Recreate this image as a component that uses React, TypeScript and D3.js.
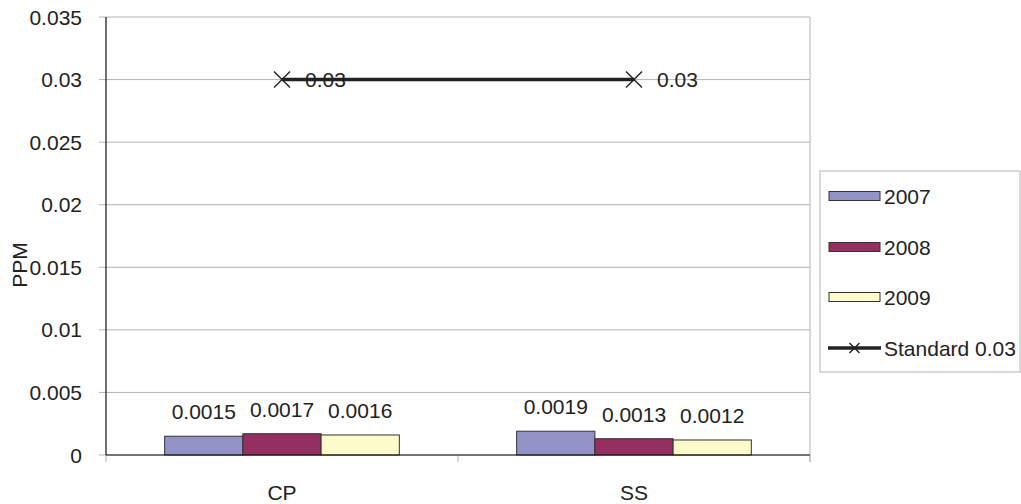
import React from "react";
import * as d3 from "d3";

const categories = ["CP", "SS"];
const seriesNames = ["2007", "2008", "2009"];
const values2007 = [0.0015, 0.0019];
const values2008 = [0.0017, 0.0013];
const values2009 = [0.0016, 0.0012];
const standardValues = [0.03, 0.03];
const standardName = "Standard 0.03";
const yTicks = [0, 0.005, 0.01, 0.015, 0.02, 0.025, 0.03, 0.035];
const seriesColors = ["#9393C8", "#952F61", "#FDFBCB"];

const W = 1021;
const H = 504;
const FONT = "Liberation Sans, Arial, sans-serif";
const TXT = "#222";

export default function App() {
  const left = 106;
  const right = 810;
  const top = 17;
  const bottom = 455;
  const y = d3.scaleLinear().domain([0, 0.035]).range([bottom, top]);
  const x = d3.scaleBand<string>().domain(categories).range([left, right]).padding(0);
  const band = x.bandwidth();
  const groupW = (band * 3) / 4.5;
  const inner = d3
    .scaleBand<string>()
    .domain(seriesNames)
    .range([(band - groupW) / 2, (band + groupW) / 2])
    .padding(0);
  const seriesValues = [values2007, values2008, values2009];
  const fs = 21;

  const linePts = categories.map((c, i) => [x(c)! + band / 2, y(standardValues[i])] as [number, number]);
  const line = d3.line()(linePts) || "";

  const cross = (cx: number, cy: number, r: number, key: string) => (
    <g key={key} stroke="#222" strokeWidth={1.4}>
      <line x1={cx - r} y1={cy - r} x2={cx + r} y2={cy + r} />
      <line x1={cx - r} y1={cy + r} x2={cx + r} y2={cy - r} />
    </g>
  );

  const legX = 820;
  const legY = 171;
  const legRowY = [196, 247, 297, 348];

  return (
    <svg
      width={W}
      height={H}
      style={{ position: "absolute", left: 0, top: 0, background: "#fff" }}
      fontFamily={FONT}
    >
      <rect x={0} y={0} width={W} height={H} fill="#fff" />
      {/* gridlines */}
      {yTicks.map((t) => (
        <line key={"g" + t} x1={left - 7} x2={right} y1={y(t)} y2={y(t)} stroke="#b4b4b4" strokeWidth={1} />
      ))}
      {/* right border */}
      <line x1={right} x2={right} y1={top} y2={bottom + 7} stroke="#b4b4b4" strokeWidth={1} />
      {/* x ticks */}
      {[left, ...categories.map((c) => x(c)! + band)].map((t, i) => (
        <line key={"xt" + i} x1={t} x2={t} y1={bottom} y2={bottom + 7} stroke="#b4b4b4" strokeWidth={1} />
      ))}
      {/* y tick labels */}
      {yTicks.map((t) => (
        <text key={"yl" + t} x={82} y={y(t)} dy="0.36em" textAnchor="end" fontSize={fs} fill={TXT}>
          {String(t)}
        </text>
      ))}
      {/* bars */}
      {categories.map((c, ci) =>
        seriesNames.map((s, si) => {
          const v = seriesValues[si][ci];
          const bx = x(c)! + inner(s)!;
          const bw = inner.bandwidth();
          return (
            <g key={c + s}>
              <rect x={bx} y={y(v)} width={bw} height={bottom - y(v)} fill={seriesColors[si]} stroke="#333" strokeWidth={1} />
              <text x={bx + bw / 2} y={y(v) - 17} textAnchor="middle" fontSize={fs} fill={TXT}>
                {String(v)}
              </text>
            </g>
          );
        })
      )}
      {/* axes */}
      <line x1={left} x2={left} y1={top} y2={bottom} stroke="#111" strokeWidth={1.2} />
      <line x1={left} x2={right} y1={bottom} y2={bottom} stroke="#111" strokeWidth={1.2} />
      {/* standard line */}
      <path d={line} fill="none" stroke="#222" strokeWidth={3.5} />
      {linePts.map((p, i) => cross(p[0], p[1], 8, "c" + i))}
      {linePts.map((p, i) => (
        <text key={"sl" + i} x={p[0] + 23} y={p[1]} dy="0.36em" fontSize={fs} fill={TXT}>
          {String(standardValues[i])}
        </text>
      ))}
      {/* category labels */}
      {categories.map((c) => (
        <text key={"cl" + c} x={x(c)! + band / 2} y={492} dy="0.36em" textAnchor="middle" fontSize={fs} fill={TXT}>
          {c}
        </text>
      ))}
      {/* y axis title */}
      <text transform={`translate(27,265) rotate(-90)`} textAnchor="middle" fontSize={fs} fill={TXT}>
        PPM
      </text>
      {/* legend */}
      <rect x={legX} y={legY} width={W - legX - 1} height={201} fill="#fff" stroke="#b4b4b4" strokeWidth={1} />
      {seriesNames.map((s, i) => (
        <g key={"lg" + s}>
          <rect x={829} y={legRowY[i] - 4.5} width={51} height={9} fill={seriesColors[i]} stroke="#333" strokeWidth={1} />
          <text x={884} y={legRowY[i]} dy="0.36em" fontSize={fs} fill={TXT}>
            {s}
          </text>
        </g>
      ))}
      <line x1={828} x2={881} y1={legRowY[3]} y2={legRowY[3]} stroke="#222" strokeWidth={3.5} />
      {cross(854.5, legRowY[3], 5, "legc")}
      <text x={884} y={legRowY[3]} dy="0.36em" fontSize={fs} fill={TXT}>
        {standardName}
      </text>
    </svg>
  );
}
